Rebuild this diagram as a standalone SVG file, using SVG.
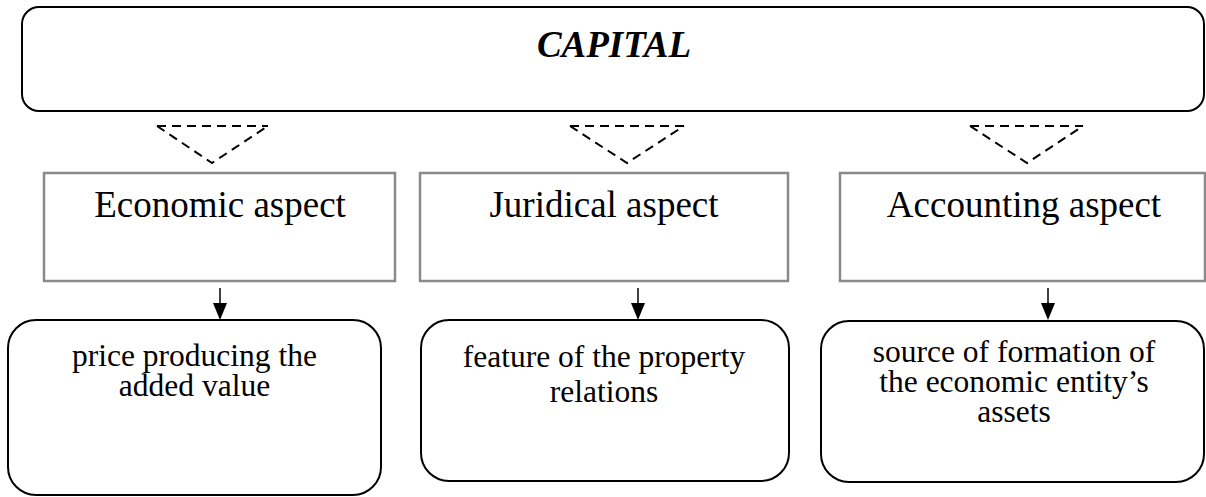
<svg xmlns="http://www.w3.org/2000/svg" width="1206" height="497" viewBox="0 0 1206 497">
<style>
.rbox{fill:#fff;stroke:#000;stroke-width:2}
.gbox{fill:#fff;stroke:#8a8a8a;stroke-width:2.5}
.dash{fill:none;stroke:#000;stroke-width:2;stroke-dasharray:9 6}
.t{font-family:"Liberation Serif","Times New Roman",serif;fill:#000;text-anchor:middle}
.title{font-size:37px;font-style:italic;font-weight:bold}
.asp{font-size:37px}
.desc{font-size:31.5px}
.arr{stroke:#000;stroke-width:1.5;fill:none}
</style>
<g id="capital">
<rect class="rbox" x="22" y="7" width="1182" height="104" rx="17" ry="17"/>
<text class="t title" x="614" y="57">CAPITAL</text>
</g>
<g id="connectors">
<path class="dash" d="M157,126 L268,126 M157,126 L212,163 L268,126"/>
<path class="dash" d="M570,126 L684,126 M570,126 L627,163 L684,126"/>
<path class="dash" d="M970,126 L1083,126 M970,126 L1027,163 L1083,126"/>
<line class="arr" x1="220" y1="288" x2="220" y2="303"/>
<path d="M213,303 L227,303 L220,320 Z" fill="#000"/>
<line class="arr" x1="638" y1="288" x2="638" y2="303"/>
<path d="M631,303 L645,303 L638,320 Z" fill="#000"/>
<line class="arr" x1="1048" y1="288" x2="1048" y2="303"/>
<path d="M1041,303 L1055,303 L1048,320 Z" fill="#000"/>
</g>
<g id="economic">
<rect class="gbox" x="44" y="173" width="351" height="108"/>
<text class="t asp" x="220" y="217">Economic aspect</text>
</g>
<g id="juridical">
<rect class="gbox" x="420" y="173" width="368" height="108"/>
<text class="t asp" x="604" y="217">Juridical aspect</text>
</g>
<g id="accounting">
<rect class="gbox" x="840" y="173" width="365" height="108"/>
<text class="t asp" x="1024" y="217">Accounting aspect</text>
</g>
<g id="price">
<rect class="rbox" x="8" y="320" width="373" height="175" rx="28" ry="28"/>
<text class="t desc" x="194.5" y="366">price producing the</text>
<text class="t desc" x="194.5" y="396">added value</text>
</g>
<g id="feature">
<rect class="rbox" x="421" y="320" width="368" height="161" rx="28" ry="28"/>
<text class="t desc" x="604" y="367">feature of the property</text>
<text class="t desc" x="604" y="402">relations</text>
</g>
<g id="source">
<rect class="rbox" x="821" y="321" width="383" height="161" rx="28" ry="28"/>
<text class="t desc" x="1014" y="362">source of formation of</text>
<text class="t desc" x="1014" y="392">the economic entity’s</text>
<text class="t desc" x="1014" y="422">assets</text>
</g>
</svg>
